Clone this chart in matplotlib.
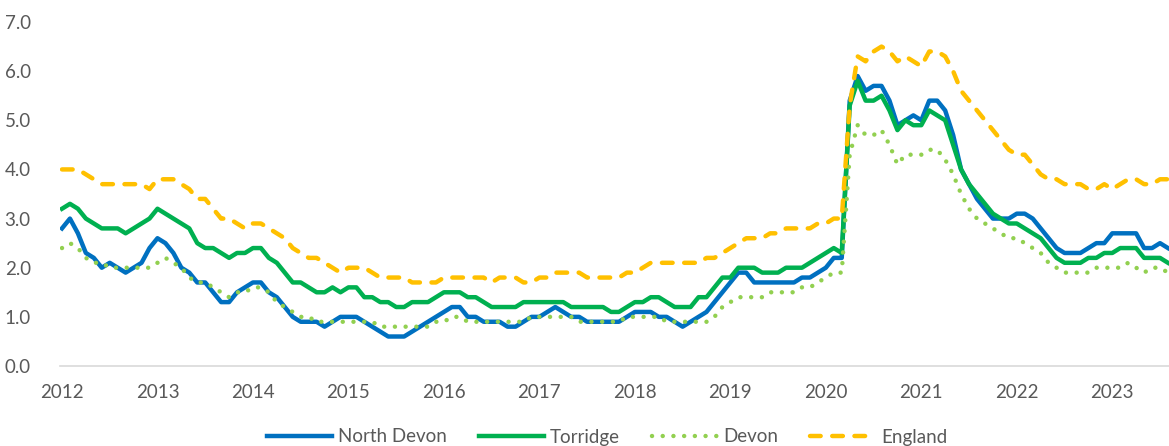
import matplotlib
matplotlib.use("Agg")
from matplotlib import pyplot as plt

# monthly values, Jan 2012 .. Aug 2023
north_devon = [
    2.8, 3.0, 2.7, 2.3, 2.2, 2.0, 2.1, 2.0, 1.9, 2.0, 2.1, 2.4,  # 2012
    2.6, 2.5, 2.3, 2.0, 1.9, 1.7, 1.7, 1.5, 1.3, 1.3, 1.5, 1.6,  # 2013
    1.7, 1.7, 1.5, 1.4, 1.2, 1.0, 0.9, 0.9, 0.9, 0.8, 0.9, 1.0,  # 2014
    1.0, 1.0, 0.9, 0.8, 0.7, 0.6, 0.6, 0.6, 0.7, 0.8, 0.9, 1.0,  # 2015
    1.1, 1.2, 1.2, 1.0, 1.0, 0.9, 0.9, 0.9, 0.8, 0.8, 0.9, 1.0,  # 2016
    1.0, 1.1, 1.2, 1.1, 1.0, 1.0, 0.9, 0.9, 0.9, 0.9, 0.9, 1.0,  # 2017
    1.1, 1.1, 1.1, 1.0, 1.0, 0.9, 0.8, 0.9, 1.0, 1.1, 1.3, 1.5,  # 2018
    1.7, 1.9, 1.9, 1.7, 1.7, 1.7, 1.7, 1.7, 1.7, 1.8, 1.8, 1.9,  # 2019
    2.0, 2.2, 2.2, 5.4, 5.9, 5.6, 5.7, 5.7, 5.4, 4.9, 5.0, 5.1,  # 2020
    5.0, 5.4, 5.4, 5.2, 4.7, 4.0, 3.7, 3.4, 3.2, 3.0, 3.0, 3.0,  # 2021
    3.1, 3.1, 3.0, 2.8, 2.6, 2.4, 2.3, 2.3, 2.3, 2.4, 2.5, 2.5,  # 2022
    2.7, 2.7, 2.7, 2.7, 2.4, 2.4, 2.5, 2.4,                      # 2023
]
torridge = [
    3.2, 3.3, 3.2, 3.0, 2.9, 2.8, 2.8, 2.8, 2.7, 2.8, 2.9, 3.0,
    3.2, 3.1, 3.0, 2.9, 2.8, 2.5, 2.4, 2.4, 2.3, 2.2, 2.3, 2.3,
    2.4, 2.4, 2.2, 2.1, 1.9, 1.7, 1.7, 1.6, 1.5, 1.5, 1.6, 1.5,
    1.6, 1.6, 1.4, 1.4, 1.3, 1.3, 1.2, 1.2, 1.3, 1.3, 1.3, 1.4,
    1.5, 1.5, 1.5, 1.4, 1.4, 1.3, 1.2, 1.2, 1.2, 1.2, 1.3, 1.3,
    1.3, 1.3, 1.3, 1.3, 1.2, 1.2, 1.2, 1.2, 1.2, 1.1, 1.1, 1.2,
    1.3, 1.3, 1.4, 1.4, 1.3, 1.2, 1.2, 1.2, 1.4, 1.4, 1.6, 1.8,
    1.8, 2.0, 2.0, 2.0, 1.9, 1.9, 1.9, 2.0, 2.0, 2.0, 2.1, 2.2,
    2.3, 2.4, 2.3, 5.3, 5.8, 5.4, 5.4, 5.5, 5.2, 4.8, 5.0, 4.9,
    4.9, 5.2, 5.1, 5.0, 4.5, 4.0, 3.7, 3.5, 3.3, 3.1, 3.0, 2.9,
    2.9, 2.8, 2.7, 2.6, 2.4, 2.2, 2.1, 2.1, 2.1, 2.2, 2.2, 2.3,
    2.3, 2.4, 2.4, 2.4, 2.2, 2.2, 2.2, 2.1,
]
devon = [
    2.4, 2.5, 2.4, 2.2, 2.1, 2.1, 2.0, 2.0, 2.0, 2.0, 2.0, 2.0,
    2.1, 2.2, 2.1, 2.0, 1.8, 1.7, 1.7, 1.6, 1.5, 1.4, 1.5, 1.5,
    1.6, 1.6, 1.5, 1.3, 1.2, 1.1, 1.0, 1.0, 0.9, 0.9, 0.9, 0.9,
    0.9, 0.9, 0.9, 0.9, 0.8, 0.8, 0.8, 0.8, 0.8, 0.8, 0.8, 0.9,
    0.9, 1.0, 1.0, 0.9, 0.9, 0.9, 0.9, 0.9, 0.9, 0.9, 0.9, 1.0,
    1.0, 1.0, 1.0, 1.0, 1.0, 0.9, 0.9, 0.9, 0.9, 0.9, 0.9, 1.0,
    1.0, 1.0, 1.0, 1.0, 0.9, 0.9, 0.9, 0.9, 0.9, 0.9, 1.0, 1.2,
    1.3, 1.4, 1.4, 1.4, 1.4, 1.5, 1.5, 1.5, 1.5, 1.6, 1.6, 1.7,
    1.8, 1.9, 1.9, 4.3, 4.9, 4.7, 4.7, 4.8, 4.5, 4.1, 4.3, 4.3,
    4.3, 4.4, 4.4, 4.2, 3.9, 3.5, 3.2, 3.0, 2.9, 2.8, 2.7, 2.6,
    2.6, 2.5, 2.4, 2.3, 2.1, 2.0, 1.9, 1.9, 1.9, 1.9, 2.0, 2.0,
    2.0, 2.0, 2.1, 2.0, 1.9, 2.0, 2.0, 1.9,
]
england = [
    4.0, 4.0, 4.0, 3.9, 3.8, 3.7, 3.7, 3.7, 3.7, 3.7, 3.7, 3.6,
    3.8, 3.8, 3.8, 3.7, 3.6, 3.4, 3.4, 3.2, 3.0, 3.0, 2.9, 2.8,
    2.9, 2.9, 2.8, 2.7, 2.6, 2.4, 2.3, 2.2, 2.2, 2.1, 2.0, 1.9,
    2.0, 2.0, 2.0, 1.9, 1.8, 1.8, 1.8, 1.8, 1.7, 1.7, 1.7, 1.7,
    1.8, 1.8, 1.8, 1.8, 1.8, 1.8, 1.7, 1.8, 1.8, 1.8, 1.7, 1.7,
    1.8, 1.8, 1.9, 1.9, 1.9, 1.9, 1.8, 1.8, 1.8, 1.8, 1.8, 1.9,
    1.9, 2.0, 2.1, 2.1, 2.1, 2.1, 2.1, 2.1, 2.1, 2.2, 2.2, 2.3,
    2.4, 2.5, 2.6, 2.6, 2.6, 2.7, 2.7, 2.8, 2.8, 2.8, 2.8, 2.9,
    2.9, 3.0, 3.0, 5.3, 6.3, 6.2, 6.4, 6.5, 6.4, 6.2, 6.3, 6.2,
    6.1, 6.4, 6.4, 6.3, 6.0, 5.6, 5.4, 5.2, 5.0, 4.8, 4.6, 4.4,
    4.3, 4.3, 4.1, 3.9, 3.8, 3.8, 3.7, 3.7, 3.7, 3.6, 3.6, 3.7,
    3.6, 3.7, 3.8, 3.8, 3.7, 3.7, 3.8, 3.8,
]
years = ["2012", "2013", "2014", "2015", "2016", "2017",
         "2018", "2019", "2020", "2021", "2022", "2023"]

plt.rcParams['font.family'] = ['Lato', 'DejaVu Sans']
grey = '#595959'

fig = plt.figure(figsize=(11.69, 4.46), dpi=100)
ax = fig.add_axes([60/1169, 1 - 366/446, 1 - 60/1169, (366 - 22)/446])

months = list(range(len(north_devon)))
lw = 3.2
ax.plot(months, north_devon, color='#0070C0', lw=lw, label='North Devon',
        solid_joinstyle='round')
ax.plot(months, torridge, color='#00B050', lw=lw, label='Torridge',
        solid_joinstyle='round')
ax.plot(months, devon, color='#92D050', lw=lw, label='Devon',
        linestyle=(0, (0.01, 2.4)), dash_capstyle='round')
ax.plot(months, england, color='#FFC000', lw=lw, label='England',
        linestyle=(0, (2.4, 2.6)), dash_capstyle='round')

ax.set_xlim(-0.25, len(months) - 1 + 0.13)
ax.set_ylim(0, 7)
ax.set_yticks([0, 1, 2, 3, 4, 5, 6, 7])
ax.set_yticklabels([f"{v:.1f}" for v in range(8)])
ax.set_xticks(range(0, len(months), 12))
ax.set_xticklabels(years)
ax.tick_params(axis='both', length=0, labelsize=13.5, colors=grey)
ax.tick_params(axis='y', pad=21)
ax.tick_params(axis='x', pad=13)

for s in ['top', 'right', 'left']:
    ax.spines[s].set_visible(False)
ax.spines['bottom'].set_color('#D9D9D9')
ax.spines['bottom'].set_linewidth(1.2)
ax.patch.set_alpha(0)

fig.legend(loc='center', bbox_to_anchor=(607/1169, 9/446), ncol=4,
           frameon=False, fontsize=13.5, handlelength=3.5, handletextpad=0.3,
           columnspacing=1.7, labelcolor=grey)

fig.savefig('out.png', dpi=100)
